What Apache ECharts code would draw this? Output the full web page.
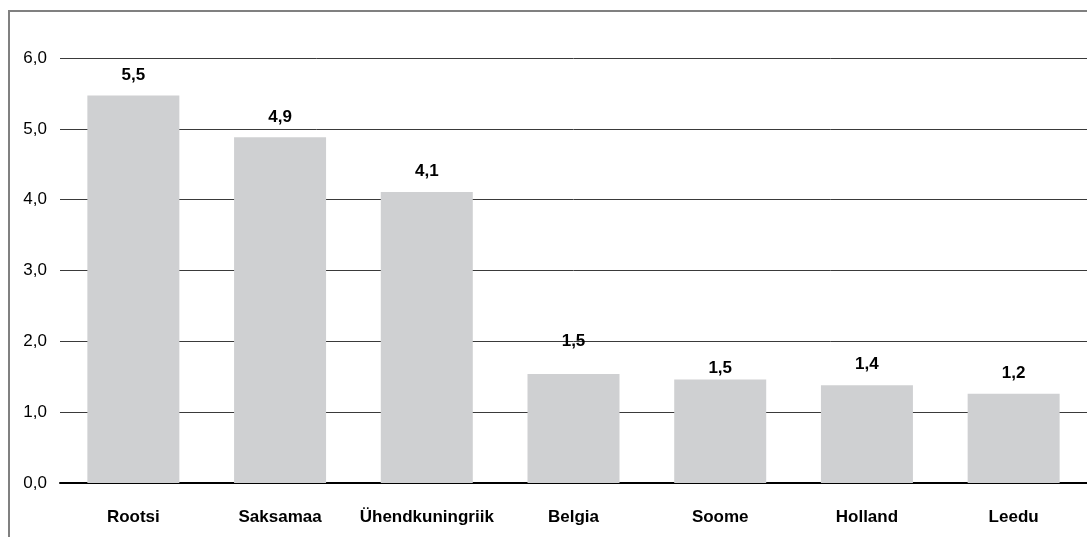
<!DOCTYPE html>
<html>
<head>
<meta charset="utf-8">
<script src="https://cdn.jsdelivr.net/npm/echarts@6/dist/echarts.min.js"></script>
<style>
html,body{margin:0;padding:0;background:#fff;}
#chart{width:1087px;height:537px;}
</style>
</head>
<body>
<div id="chart"></div>
<script>
const categories = ['Rootsi', 'Saksamaa', 'Ühendkuningriik', 'Belgia', 'Soome', 'Holland', 'Leedu'];
const values = [5.47, 4.88, 4.11, 1.54, 1.46, 1.38, 1.26];
const valueLabels = ['5,5', '4,9', '4,1', '1,5', '1,5', '1,4', '1,2'];
const yTicks = [0, 1, 2, 3, 4, 5, 6];

const FONT = 'Liberation Sans, Arial, sans-serif';
const labelDistance = {3: 24, 4: 3};

const chart = echarts.init(document.getElementById('chart'), null, {renderer: 'canvas'});
chart.setOption({
  animation: false,
  backgroundColor: '#ffffff',
  graphic: [{
    type: 'rect',
    shape: {x: 9, y: 11, width: 1200, height: 700},
    style: {fill: 'none', stroke: '#808080', lineWidth: 2},
    silent: true
  }],
  grid: {left: 60, right: 0, top: 58, bottom: 54, containLabel: false},
  xAxis: {
    type: 'category',
    data: categories,
    axisTick: {show: false},
    axisLine: {show: true, lineStyle: {color: '#000', width: 2}},
    axisLabel: {
      margin: 26,
      interval: 0,
      color: '#000',
      fontFamily: FONT,
      fontWeight: 'bold',
      fontSize: 17
    }
  },
  yAxis: {
    type: 'value',
    min: yTicks[0],
    max: yTicks[yTicks.length - 1],
    interval: 1,
    axisLine: {show: false},
    axisTick: {show: false},
    splitLine: {show: true, lineStyle: {color: '#3a3a3a', width: 1}},
    axisLabel: {
      margin: 13,
      color: '#000',
      fontFamily: FONT,
      fontSize: 17,
      formatter: v => v.toFixed(1).replace('.', ',')
    }
  },
  series: [{
    type: 'bar',
    barWidth: 92,
    itemStyle: {color: '#cfd0d2'},
    data: values.map((v, i) => ({
      value: v,
      label: {
        show: true,
        position: 'top',
        distance: labelDistance[i] !== undefined ? labelDistance[i] : 12,
        formatter: valueLabels[i],
        color: '#000',
        fontFamily: FONT,
        fontWeight: 'bold',
        fontSize: 17
      }
    }))
  }]
});
</script>
</body>
</html>
